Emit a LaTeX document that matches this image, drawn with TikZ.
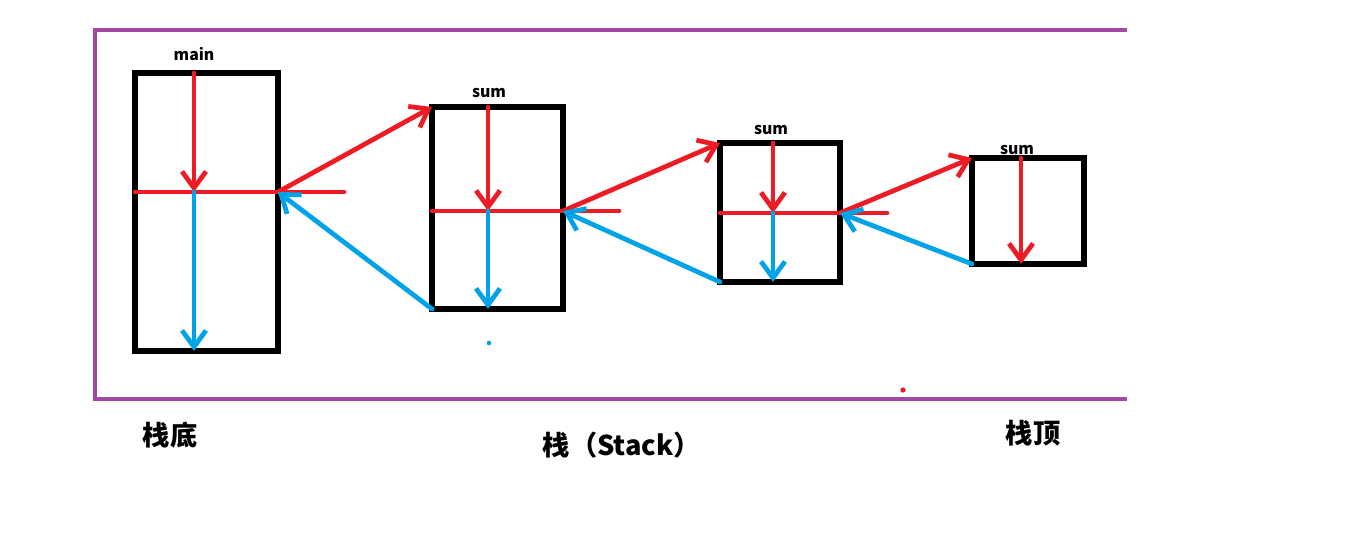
\documentclass[tikz,border=0pt]{standalone}
\usepackage{fontspec}
\newfontfamily\cjk{Noto Sans CJK SC}
\usepackage{tikz}
\usetikzlibrary{arrows.meta,positioning}
\definecolor{paintred}{RGB}{237,28,36}
\definecolor{paintblue}{RGB}{0,162,232}
\definecolor{paintpurple}{RGB}{163,73,164}
\tikzstyle{frame} = [draw=paintpurple, line width=2pt]
\tikzstyle{stackbox} = [rectangle, draw, line width=3.2pt, inner sep=0pt, outer sep=0pt]
\tikzstyle{redline} = [draw=paintred, line width=2.7pt, line cap=round]
\tikzstyle{redarrow} = [redline, -{Straight Barb[length=3.3mm,width=4.8mm]}]
\tikzstyle{bluearrow} = [draw=paintblue, line width=2.7pt, line cap=round, -{Straight Barb[length=3.3mm,width=4.8mm]}]
\tikzstyle{funclabel} = [font=\cjk\bfseries\fontsize{9}{10}\selectfont, inner sep=0pt]
\tikzstyle{stacklabel} = [font=\cjk\bfseries\fontsize{15.5}{18}\selectfont, inner sep=0pt]

\begin{document}
\begin{tikzpicture}[x=0.02cm, y=-0.02cm]
    \useasboundingbox (0,0) rectangle (1358,541);
    % stack area, open on the right
    \draw[frame] (1127,30) -- (95,30) -- (95,399) -- (1127,399);

    % frames
    \node[stackbox, minimum width=2.86cm, minimum height=5.56cm] (mainbox) at (206.5,212) {};
    \node[stackbox, minimum width=2.62cm, minimum height=4.04cm] (sumA) at (497.5,208) {};
    \node[stackbox, minimum width=2.4cm, minimum height=2.78cm] (sumB) at (780,212.5) {};
    \node[stackbox, minimum width=2.24cm, minimum height=2.12cm] (sumC) at (1028,211) {};

    \node[funclabel] (mainname) at (194,54) {main};
    \node[funclabel] (sumAname) at (489,93) {sum};
    \node[funclabel] (sumBname) at (771,130) {sum};
    \node[funclabel] (sumCname) at (1017,150) {sum};

    % split points
    \coordinate (mainC) at (194,192);
    \coordinate (mainX) at (344,192);
    \coordinate (sumAC) at (488,211);
    \coordinate (sumAX) at (619,211);
    \coordinate (sumBC) at (773,213);
    \coordinate (sumBX) at (887,213);
    \coordinate (sumCC) at (1021,0);

    \draw[redline] (mainbox.west |- mainC) -- (mainX);
    \draw[redarrow] (mainbox.north -| mainC) -- (mainC);
    \draw[bluearrow] (mainC) -- (mainbox.south -| mainC);

    \draw[redline] (sumA.west |- sumAC) -- (sumAX);
    \draw[redarrow] (sumA.north -| sumAC) -- (sumAC);
    \draw[bluearrow] (sumAC) -- (sumA.south -| sumAC);

    \draw[redline] (sumB.west |- sumBC) -- (sumBX);
    \draw[redarrow] (sumB.north -| sumBC) -- (sumBC);
    \draw[bluearrow] (sumBC) -- (sumB.south -| sumBC);

    \draw[redarrow] (sumC.north -| sumCC) -- (sumC.south -| sumCC);

    % calls and returns
    \draw[redarrow] (mainbox.east |- mainC) -- (sumA.north west);
    \draw[bluearrow] (sumA.south west) -- (mainbox.east |- mainC);
    \draw[redarrow] (sumA.east |- sumAC) -- (sumB.north west);
    \draw[bluearrow] (sumB.south west) -- (sumA.east |- sumAC);
    \draw[redarrow] (sumB.east |- sumBC) -- (sumC.north west);
    \draw[bluearrow] (sumC.south west) -- (sumB.east |- sumBC);

    \fill[paintblue] (489,343) circle (1.3pt);
    \fill[paintred] (903,390) circle (1.5pt);

    \node[stacklabel] (bottomname) at (170,435) {栈底};
    \node[stacklabel] (stackname) at (622,445) {栈（Stack）};
    \node[stacklabel] (topname) at (1033,433) {栈顶};
\end{tikzpicture}
\end{document}
